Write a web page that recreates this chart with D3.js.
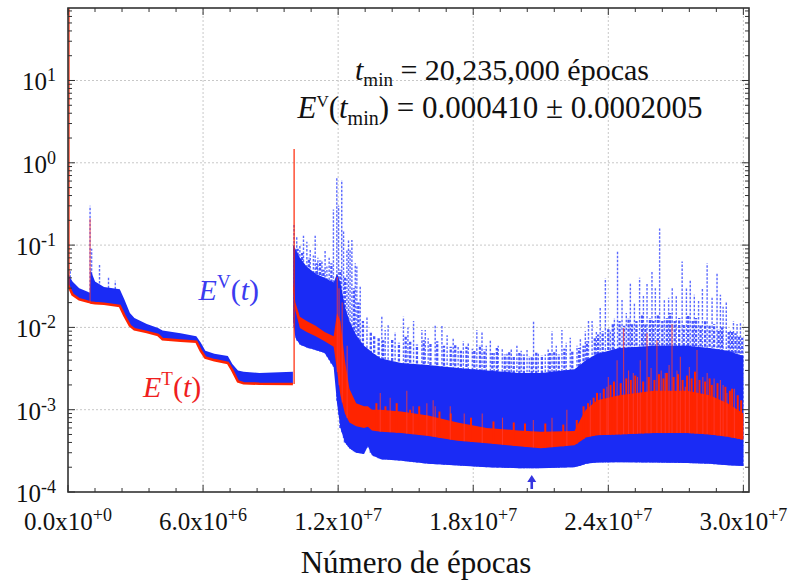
<!DOCTYPE html>
<html><head><meta charset="utf-8">
<script src="https://cdn.jsdelivr.net/npm/d3@7"></script>
<style>
body{margin:0;background:#fff}
svg{display:block}
</style>
</head><body>
<svg id="c" width="790" height="582" font-family="Liberation Serif"></svg>
<script>
// ---------------- DATA (epochs in millions, errors in absolute units) ----------------
const xTicks = [0, 6, 12, 18, 24, 30];
const xTickMant = ["0.0x10", "6.0x10", "1.2x10", "1.8x10", "2.4x10", "3.0x10"];
const xTickExp = ["+0", "+6", "+7", "+7", "+7", "+7"];
const yTicks = [1e-4, 1e-3, 1e-2, 1e-1, 1e0, 1e1];
const yTickExp = ["-4", "-3", "-2", "-1", "0", "1"];
const xTitle = "Número de épocas";
const annTmin = " = 20,235,000 épocas";
const annEv = " = 0.000410 ± 0.0002005";
const arrowT = 20.6;

// Stage 1 (0 - 1e7 epochs)
const phase1T =      [0, 0.2, 0.5, 0.9, 0.97, 1.0, 1.2, 1.6, 2.3, 2.5, 2.75, 2.95, 3.5, 4.0, 4.2, 5.0, 5.7, 5.9, 6.1, 6.5, 7.1, 7.3, 7.55, 7.8, 8.5, 9.99];
const phase1Train =  [0.033, 0.025, 0.022, 0.0205, 0.0203, 0.0200, 0.0197, 0.0194, 0.0182, 0.014, 0.0105, 0.0095, 0.0088, 0.0081, 0.0072, 0.0069, 0.0067, 0.0052, 0.0043, 0.0040, 0.0037, 0.0030, 0.0022, 0.0021, 0.00207, 0.00205];
const phase1ValTop = [0.045, 0.036, 0.030, 0.027, 0.026, 0.05, 0.036, 0.031, 0.029, 0.022, 0.015, 0.013, 0.011, 0.0098, 0.0092, 0.0085, 0.0078, 0.0065, 0.0052, 0.0048, 0.0045, 0.0036, 0.0030, 0.0029, 0.0028, 0.0029];
const phase1SpikeT = [0.1, 0.98, 1.05, 1.4, 1.8, 2.1];
const phase1SpikePeak = [0.05, 0.30, 0.09, 0.058, 0.04, 0.037];
const phase1RedSpikeT = [0.98];
const phase1RedSpikePeak = [0.21];

// Restarts of the training (red jumps)
const restartT = [0, 10.0];
const restartFrom = [0.033, 0.00205];
const restartPeak = [76, 1.47];

// Stage 2 (1e7 - 3e7 epochs)
const phase2T =     [10.0, 10.1, 10.3, 10.6, 11.0, 11.4, 11.8, 11.95, 12.1, 12.3, 12.5, 12.8, 13.15, 13.32, 13.5, 13.9, 14.8, 16.0, 17.3, 18.6, 20.0, 21.0, 22.5, 22.8, 23.0, 23.5, 24.5, 26.0, 27.5, 28.5, 29.3, 30.0];
const valLow2 =     [0.012, 0.0075, 0.0062, 0.0057, 0.0053, 0.0049, 0.0033, 0.0012, 0.0006, 0.0004, 0.00034, 0.0003, 0.00029, 0.00036, 0.00028, 0.00025, 0.00024, 0.00022, 0.00021, 0.0002, 0.000195, 0.000195, 0.0002, 0.00021, 0.00022, 0.000228, 0.00023, 0.000228, 0.000225, 0.00022, 0.000212, 0.000207];
const valTop2 =     [0.10, 0.09, 0.07, 0.055, 0.045, 0.04, 0.035, 0.045, 0.035, 0.018, 0.012, 0.008, 0.006, 0.0055, 0.005, 0.0042, 0.0037, 0.0035, 0.0032, 0.003, 0.0028, 0.0028, 0.0031, 0.0036, 0.004, 0.0048, 0.0056, 0.006, 0.006, 0.0056, 0.0052, 0.0045];
const trainLow2 =   [0.03, 0.016, 0.0098, 0.0088, 0.0078, 0.0068, 0.0058, 0.003, 0.0015, 0.0009, 0.0007, 0.00063, 0.0006, 0.00062, 0.00056, 0.00054, 0.00052, 0.00048, 0.00042, 0.00039, 0.00036, 0.00034, 0.00037, 0.00042, 0.00046, 0.00049, 0.0005, 0.00052, 0.00052, 0.0005, 0.00047, 0.00043];
const trainTop2 =   [0.035, 0.02, 0.0135, 0.012, 0.0105, 0.0088, 0.0078, 0.015, 0.012, 0.004, 0.0018, 0.0012, 0.0011, 0.0011, 0.001, 0.001, 0.00095, 0.00085, 0.0007, 0.0006, 0.00056, 0.00054, 0.00055, 0.0008, 0.001, 0.0013, 0.0015, 0.0017, 0.0017, 0.0015, 0.0012, 0.0009];

// tall dashed excursions of the validation error
const blueSpikeT = [10.04, 10.16, 10.3, 10.46, 10.61, 10.76, 10.9, 10.98, 11.1, 11.28,
  11.42, 11.5, 11.6, 11.79, 11.94, 12.02, 12.16, 12.24, 12.39, 12.46,
  12.53, 12.61, 12.76, 12.83, 12.98, 13.28, 13.94, 14.09, 14.22, 14.53,
  14.9, 15.1, 15.35, 15.72, 15.87, 16.0, 16.31, 16.61, 16.84, 17.11,
  17.33, 17.56, 17.78, 17.96, 18.16, 18.39, 18.58, 18.76, 18.93, 19.11,
  19.29, 19.5, 19.69, 19.94, 20.13, 20.39, 20.49, 20.68, 20.89, 21.2,
  21.33, 21.5, 21.69, 21.94, 22.13, 22.31, 22.61, 22.76, 22.98, 23.12,
  23.28, 23.47, 23.64, 23.87, 24.09, 24.27, 24.41, 24.61, 24.8, 24.98,
  25.16, 25.39, 25.56, 25.72, 25.94, 26.09, 26.28, 26.49, 26.68, 26.84,
  27.02, 27.28, 27.47, 27.64, 27.82, 28.01, 28.18, 28.39, 28.61, 28.83,
  28.98, 29.1, 29.24, 29.42, 29.56, 29.72, 29.87];
const blueSpikePeak = [0.18, 0.13, 0.10, 0.13, 0.11, 0.087, 0.075, 0.13, 0.07, 0.066,
  0.087, 0.055, 0.07, 0.27, 0.66, 0.3, 0.62, 0.15, 0.087, 0.115,
  0.087, 0.115, 0.06, 0.055, 0.032, 0.0135, 0.0135, 0.0093, 0.011, 0.0088,
  0.0135, 0.010, 0.012, 0.0093, 0.0093, 0.0074, 0.0105, 0.0105, 0.008, 0.0075,
  0.006, 0.0068, 0.0065, 0.0055, 0.0093, 0.0088, 0.006, 0.0071, 0.005, 0.006,
  0.0055, 0.0048, 0.0055, 0.006, 0.0052, 0.0053, 0.0045, 0.012, 0.005, 0.0047,
  0.0055, 0.009, 0.006, 0.0093, 0.0065, 0.0075, 0.006, 0.0075, 0.009, 0.012,
  0.012, 0.009, 0.0178, 0.0395, 0.0093, 0.013, 0.083, 0.0215, 0.015, 0.034,
  0.02, 0.04, 0.025, 0.035, 0.047, 0.03, 0.159, 0.0215, 0.023, 0.03,
  0.024, 0.063, 0.03, 0.038, 0.025, 0.0215, 0.03, 0.06, 0.023, 0.045,
  0.025, 0.0178, 0.02, 0.0093, 0.012, 0.011, 0.0115];

// shorter, denser dashed excursions just above the validation band
const blueFuzzT = [10.2, 10.4, 10.7, 11.05, 11.2, 11.35, 11.7, 12.1, 12.3, 12.7, 12.9, 13.1, 13.45, 13.6, 13.8, 14.0, 14.4, 14.7, 15.0, 15.2, 15.5, 15.8, 16.1, 16.4, 16.7, 17.0, 17.2, 17.45, 17.7,
  18.05, 18.3, 18.5, 18.85, 19.05, 19.4, 19.6, 19.8, 20.05, 20.25, 20.6, 20.8, 21.05, 21.4, 21.6, 21.8, 22.05, 22.4, 22.7, 22.9,
  23.05, 23.4, 23.55, 23.75, 24.0, 24.2, 24.5, 24.7, 24.9, 25.05, 25.25, 25.5, 25.65, 25.85, 26.0, 26.2, 26.4, 26.6, 26.75, 26.95,
  27.15, 27.35, 27.55, 27.75, 27.9, 28.1, 28.3, 28.5, 28.7, 28.9, 29.05, 29.35, 29.5, 29.65, 29.8, 29.95];
const blueFuzzPeak = [0.09, 0.08, 0.07, 0.06, 0.065, 0.05, 0.06, 0.05, 0.04, 0.03, 0.02, 0.012, 0.009, 0.008, 0.0075, 0.007, 0.0072, 0.0065, 0.0078, 0.0068, 0.0062, 0.007, 0.0064, 0.0068, 0.006, 0.0058, 0.0062, 0.0052, 0.0058,
  0.0052, 0.0061, 0.0054, 0.0049, 0.0056, 0.0047, 0.0052, 0.0045, 0.0049, 0.0047, 0.0044, 0.0051, 0.0046, 0.0049, 0.0052, 0.0047, 0.0055, 0.0051, 0.0056, 0.006,
  0.0068, 0.0075, 0.0082, 0.009, 0.0095, 0.011, 0.012, 0.0105, 0.013, 0.011, 0.012, 0.014, 0.011, 0.013, 0.012, 0.014, 0.012, 0.013, 0.015, 0.012,
  0.013, 0.011, 0.014, 0.012, 0.013, 0.011, 0.012, 0.0105, 0.011, 0.0095, 0.01, 0.0088, 0.009, 0.0085, 0.008, 0.0075];

const redSpikeT = [11.96, 12.04, 12.18, 12.4, 13.87, 14.31, 15.05, 15.33, 15.94, 16.22, 16.31, 16.98, 17.6, 18.4, 19.3, 20.67, 21.5, 22.16,
  23.2, 23.64, 23.94, 24.0, 24.39, 24.68, 24.9, 25.11, 25.3, 25.42, 25.72, 25.9, 26.16, 26.35, 26.53, 26.7, 26.83, 27.05, 27.2, 27.42, 27.6, 27.94, 28.2, 28.39, 28.7, 28.98, 29.1, 29.27, 29.6];
const redSpikePeak = [0.041, 0.03, 0.02, 0.006, 0.0016, 0.0014, 0.0017, 0.0011, 0.0012, 0.0013, 0.0011, 0.0011, 0.0009, 0.0009, 0.0008, 0.00075, 0.0008, 0.001,
  0.0013, 0.0016, 0.0019, 0.0025, 0.004, 0.0098, 0.003, 0.0028, 0.0025, 0.004, 0.0085, 0.0032, 0.007, 0.003, 0.0028, 0.0035, 0.011, 0.003, 0.0044, 0.0019, 0.0033, 0.0053, 0.0025, 0.0028, 0.0024, 0.0023, 0.002, 0.0016, 0.0018];

// jagged top of the training band
const redFuzzT = [13.7, 14.1, 14.6, 15.2, 15.6, 16.5, 17.0, 17.9, 18.9, 19.8, 20.3, 21.2, 22.0, 22.6, 22.9, 23.1, 23.35, 23.5, 23.8, 24.1, 24.25, 24.55, 24.8, 25.0, 25.2, 25.55, 25.8, 26.05, 26.25, 26.45, 26.6, 26.9, 27.1, 27.3, 27.5, 27.7, 27.85, 28.05, 28.3, 28.5, 28.6, 28.85, 29.2, 29.4, 29.5, 29.75, 29.9];
const redFuzzPeak = [0.0012, 0.0011, 0.0012, 0.001, 0.0011, 0.00095, 0.0009, 0.0008, 0.00072, 0.0007, 0.00068, 0.00068, 0.00066, 0.00075, 0.0011, 0.0012, 0.0014, 0.0016, 0.0018, 0.002, 0.0022, 0.0021, 0.0024, 0.0023, 0.0026, 0.0022, 0.0025, 0.0023, 0.0027, 0.0024, 0.0028, 0.0025, 0.0027, 0.0023, 0.0026, 0.0024, 0.0029, 0.0023, 0.0022, 0.0024, 0.002, 0.0021, 0.0019, 0.0017, 0.0018, 0.0015, 0.0013];

const labelV = {t: 5.8, v: 0.0215};
const labelT = {t: 3.33, v: 0.00143};

// ---------------- DRAWING ----------------
const FONT = "Liberation Serif";
const M = 1e6;
const BLUE = "#1a2bf5", RED = "#ff2400";
const L = 68, R = 749, T = 8, B = 492;
const x = d3.scaleLinear().domain([0, 30.25 * M]).range([L, R]);
const y = d3.scaleLog().domain([1e-4, 76]).range([B, T]);
const svg = d3.select("#c");

svg.append("defs").append("clipPath").attr("id", "clip")
  .append("rect").attr("x", L).attr("y", T).attr("width", R - L).attr("height", B - T);
const g = svg.append("g").attr("clip-path", "url(#clip)");

// grid
g.selectAll(".gy").data(yTicks.slice(1)).join("line")
  .attr("x1", L).attr("x2", R).attr("y1", d => y(d)).attr("y2", d => y(d))
  .attr("stroke", "#c8c8c8").attr("stroke-dasharray", "2,2");
g.selectAll(".gx").data(xTicks.slice(1)).join("line")
  .attr("y1", T).attr("y2", B).attr("x1", d => x(d * M)).attr("x2", d => x(d * M))
  .attr("stroke", "#c8c8c8").attr("stroke-dasharray", "2,2");

function interpLog(ts, vs, t) {
  const i = d3.bisectRight(ts, t);
  if (i <= 0) return vs[0];
  if (i >= ts.length) return vs[vs.length - 1];
  const f = (t - ts[i - 1]) / (ts[i] - ts[i - 1]);
  return Math.exp(Math.log(vs[i - 1]) * (1 - f) + Math.log(vs[i]) * f);
}
function spikes(ts, ps, baseT, baseV) {
  return ts.map((t, i) => ({t, p: ps[i], b: interpLog(baseT, baseV, t)}));
}
function drawSpikes(data, stroke, w, dash, op) {
  g.append("g").selectAll("line").data(data).join("line")
    .attr("x1", d => x(d.t * M)).attr("x2", d => x(d.t * M))
    .attr("y1", d => y(d.b)).attr("y2", d => y(d.p))
    .attr("stroke", stroke).attr("stroke-width", w)
    .attr("stroke-dasharray", dash).attr("opacity", op);
}

// blue dashed excursions
drawSpikes(spikes(blueFuzzT, blueFuzzPeak, phase2T, valLow2), "#2637ff", 2.3, "3,1.5", 0.85);
drawSpikes(spikes(phase1SpikeT, phase1SpikePeak, phase1T, phase1Train)
  .concat(spikes(blueSpikeT, blueSpikePeak, phase2T, valLow2)), "#3446ff", 1.4, "2.5,1.5", 0.8);

// blue bands
const area = d3.area().x(d => x(d.t * M)).y0(d => y(d.lo)).y1(d => y(d.hi));
const b1 = phase1T.map((t, i) => ({t, lo: phase1Train[i], hi: phase1ValTop[i]}));
const b2 = phase2T.map((t, i) => ({t, lo: valLow2[i], hi: valTop2[i]}));
g.append("path").attr("d", area(b1)).attr("fill", BLUE);
g.append("path").attr("d", area(b2)).attr("fill", BLUE);

// red: stage 1 line, stage 2 band
const line = d3.line().x(d => x(d.t * M)).y(d => y(d.v));
g.append("path").attr("d", line(phase1T.map((t, i) => ({t, v: phase1Train[i]}))))
  .attr("fill", "none").attr("stroke", RED).attr("stroke-width", 2.6);
const r2 = phase2T.map((t, i) => ({t, lo: trainLow2[i], hi: trainTop2[i]}));
g.append("path").attr("d", area(r2)).attr("fill", RED);

// red excursions
drawSpikes(spikes(redFuzzT, redFuzzPeak, phase2T, trainLow2), RED, 2, null, 1);
drawSpikes(spikes(phase1RedSpikeT, phase1RedSpikePeak, phase1T, phase1Train)
  .concat(spikes(redSpikeT, redSpikePeak, phase2T, trainLow2)), "#ff3a30", 1.1, null, 0.75);

// restart jumps
g.selectAll(".rj").data(restartT.map((t, i) => ({t, a: restartFrom[i], p: restartPeak[i]}))).join("line")
  .attr("x1", d => x(d.t * M) + 1).attr("x2", d => x(d.t * M) + 1)
  .attr("y1", d => y(d.a)).attr("y2", d => y(d.p))
  .attr("stroke", RED).attr("stroke-width", 1.4).attr("opacity", 0.85);

// frame & ticks
const fr = svg.append("g").attr("stroke", "#333").attr("stroke-width", 1);
fr.append("rect").attr("x", L).attr("y", T).attr("width", R - L).attr("height", B - T)
  .attr("fill", "none").attr("stroke-width", 1.6);
const xMinor = d3.range(1.2, 30.2, 1.2).filter(v => Math.abs(v / 6 - Math.round(v / 6)) > 1e-6);
xTicks.forEach(v => {
  fr.append("line").attr("x1", x(v * M)).attr("x2", x(v * M)).attr("y1", B).attr("y2", B - 7);
  fr.append("line").attr("x1", x(v * M)).attr("x2", x(v * M)).attr("y1", T).attr("y2", T + 7);
});
xMinor.forEach(v => {
  fr.append("line").attr("x1", x(v * M)).attr("x2", x(v * M)).attr("y1", B).attr("y2", B - 4);
  fr.append("line").attr("x1", x(v * M)).attr("x2", x(v * M)).attr("y1", T).attr("y2", T + 4);
});
yTicks.forEach(v => {
  fr.append("line").attr("x1", L).attr("x2", L + 7).attr("y1", y(v)).attr("y2", y(v));
  fr.append("line").attr("x1", R).attr("x2", R - 7).attr("y1", y(v)).attr("y2", y(v));
  for (let m = 2; m <= 9; m++) {
    const mv = m * v;
    if (mv > 76) break;
    fr.append("line").attr("x1", L).attr("x2", L + 4).attr("y1", y(mv)).attr("y2", y(mv));
    fr.append("line").attr("x1", R).attr("x2", R - 4).attr("y1", y(mv)).attr("y2", y(mv));
  }
});

function txt(xp, yp, size, anchor, fill) {
  return svg.append("text").attr("x", xp).attr("y", yp).attr("font-size", size)
    .attr("text-anchor", anchor).attr("fill", fill).attr("font-family", FONT);
}

// tick labels
yTicks.forEach((v, i) => {
  const t = txt(56, y(v) + 10, 25, "end", "#111");
  t.append("tspan").text("10");
  t.append("tspan").attr("font-size", 18).attr("dy", -9).text(yTickExp[i]);
});
xTicks.forEach((v, i) => {
  const t = txt(x(v * M), 530, 25, "middle", "#111");
  t.append("tspan").text(xTickMant[i]);
  t.append("tspan").attr("font-size", 18).attr("dy", -9).text(xTickExp[i]);
});
txt(416, 573, 31, "middle", "#111").text(xTitle);

// annotation
const a1 = txt(502, 80, 30, "middle", "#111");
a1.append("tspan").attr("font-style", "italic").text("t");
a1.append("tspan").attr("font-size", 19).attr("dy", 6).text("min");
a1.append("tspan").attr("dy", -6).text(annTmin);
const a2 = txt(500, 118, 31, "middle", "#111");
a2.append("tspan").attr("font-style", "italic").text("E");
a2.append("tspan").attr("font-size", 17).attr("dy", -11).text("V");
a2.append("tspan").attr("dy", 11).text("(");
a2.append("tspan").attr("font-style", "italic").text("t");
a2.append("tspan").attr("font-size", 20).attr("dy", 7).text("min");
a2.append("tspan").attr("dy", -7).text(")");
a2.append("tspan").text(annEv);

// series labels
function seriesLabel(pos, sup, col) {
  const t = txt(x(pos.t * M), y(pos.v), 30, "start", col);
  t.append("tspan").attr("font-style", "italic").text("E");
  t.append("tspan").attr("font-size", 19).attr("dy", -12).text(sup);
  t.append("tspan").attr("dy", 12).text("(");
  t.append("tspan").attr("font-style", "italic").text("t");
  t.append("tspan").text(")");
}
seriesLabel(labelV, "V", "#3b3bf0");
seriesLabel(labelT, "T", "#f01e1e");

// arrow at t_min
const ax = x(arrowT * M), ab = y(1e-4);
svg.append("path")
  .attr("d", `M${ax},${ab - 17} L${ax + 4.5},${ab - 10} L${ax + 1.3},${ab - 10} L${ax + 1.3},${ab - 3} L${ax - 1.3},${ab - 3} L${ax - 1.3},${ab - 10} L${ax - 4.5},${ab - 10} Z`)
  .attr("fill", "#3535e0");
</script>
</body></html>
